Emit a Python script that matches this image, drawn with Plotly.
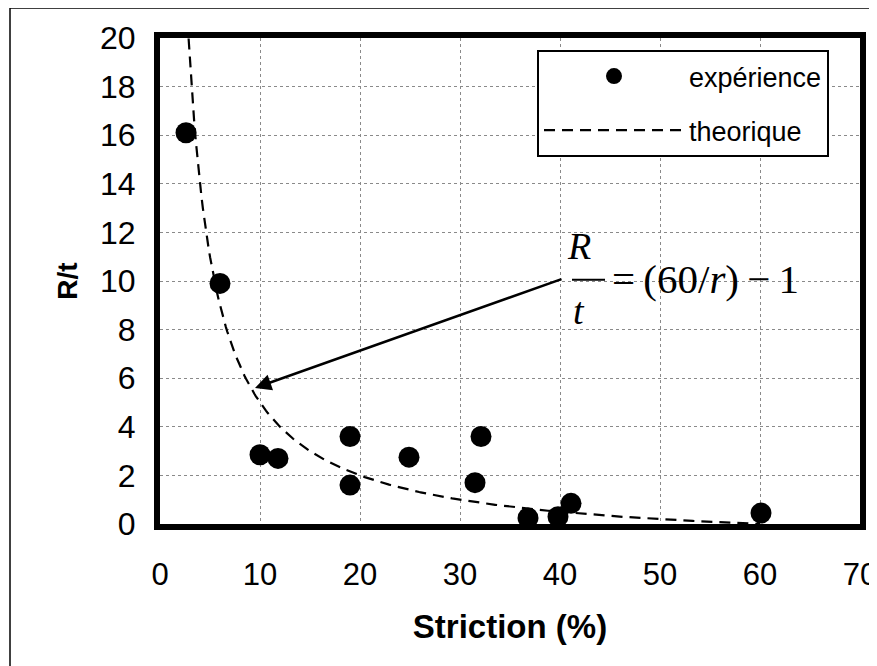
import numpy as np
import plotly.graph_objects as go

# Experimental data: striction (%) vs R/t
striction = [2.6, 6.0, 10.0, 11.8, 19.0, 19.0, 24.9, 31.5, 32.1, 36.8, 39.8, 41.1, 60.1]
r_over_t = [16.1, 9.9, 2.85, 2.7, 3.6, 1.6, 2.75, 1.7, 3.6, 0.25, 0.3, 0.85, 0.45]

# Theoretical curve R/t = 60/r - 1
r_theo = np.linspace(2.86, 60, 400)
rt_theo = 60.0 / r_theo - 1.0

x_ticks = [0, 10, 20, 30, 40, 50, 60, 70]
y_ticks = [0, 2, 4, 6, 8, 10, 12, 14, 16, 18, 20]

# page has an 8px body margin: compensate
OFF = 8
W, H = 877 - OFF, 666 - OFF
L, T = 160 - OFF, 38 - OFF
R = W - (860 - OFF)
B = H - (524 - OFF)

def px2x(p):
    return (p - 160) / (860 - 160)

def py2y(p):
    return (524 - p) / (524 - 38)

fig = go.Figure()
fig.add_trace(go.Scatter(
    x=striction, y=r_over_t, mode="markers", name="expérience",
    legendgroup="a",
    marker=dict(color="black", size=21, symbol="circle"),
))
fig.add_trace(go.Scatter(
    x=r_theo, y=rt_theo, mode="lines", name="theorique",
    legendgroup="b",
    line=dict(color="black", width=2.2, dash="11px,7px"),
))

font_sans = "Liberation Sans, Arial, sans-serif"
font_serif = "Liberation Serif, Times New Roman, serif"

# arrow
fig.add_annotation(x=9.5, y=5.6, ax=40.3, ay=10.1, xref="x", yref="y",
                   axref="x", ayref="y", text="", showarrow=True,
                   arrowhead=2, arrowsize=1.3, arrowwidth=2.5, arrowcolor="black")
# formula
fig.add_annotation(x=41.9, y=11.45, xref="x", yref="y", text="<i>R</i>",
                   showarrow=False, font=dict(family=font_serif, size=38, color="black"))
fig.add_annotation(x=41.9, y=8.75, xref="x", yref="y", text="<i>t</i>",
                   showarrow=False, font=dict(family=font_serif, size=38, color="black"))
fig.add_shape(type="line", x0=41.2, x1=44.5, y0=10.05, y1=10.05, xref="x", yref="y",
              line=dict(color="black", width=2))
fig.add_annotation(x=45.0, y=10.1, xref="x", yref="y", xanchor="left",
                   text="=\u2009(60/<i>r</i>)\u2009\u2212\u20091", showarrow=False,
                   font=dict(family=font_serif, size=41, color="black"))

# outer frame of the figure (left and top edges visible)
fig.add_shape(type="line", xref="paper", yref="paper",
              x0=px2x(10), x1=px2x(10), y0=py2y(680), y1=py2y(8),
              line=dict(color="black", width=1.5), layer="below")
fig.add_shape(type="line", xref="paper", yref="paper",
              x0=px2x(10), x1=px2x(900), y0=py2y(8), y1=py2y(8),
              line=dict(color="black", width=1.5), layer="below")

fig.update_layout(
    width=W, height=H,
    margin=dict(l=L, r=R, t=T, b=B, autoexpand=False),
    paper_bgcolor="white", plot_bgcolor="white",
    font=dict(family=font_sans, color="black"),
    showlegend=True,
    legend=dict(x=px2x(537), y=py2y(50), xanchor="left", yanchor="top",
                bordercolor="black", borderwidth=2, bgcolor="white",
                font=dict(family=font_sans, size=27, color="black"),
                itemwidth=140, tracegroupgap=16),
    xaxis=dict(range=[0, 70], tickvals=x_ticks, ticktext=[str(v) for v in x_ticks],
               showgrid=True, gridcolor="#8a8a8a", griddash="dot", gridwidth=1,
               showline=True, linecolor="black", linewidth=6, mirror=True,
               zeroline=False, ticks="", ticklabelstandoff=18,
               ticklabeloverflow="allow", automargin=False,
               tickfont=dict(size=31),
               title=dict(text="<b>Striction (%)</b>", font=dict(size=33), standoff=26)),
    yaxis=dict(range=[0, 20], tickvals=y_ticks, ticktext=[str(v) for v in y_ticks],
               showgrid=True, gridcolor="#8a8a8a", griddash="dot", gridwidth=1,
               showline=True, linecolor="black", linewidth=6, mirror=True,
               zeroline=False, ticks="", ticklabelstandoff=12, automargin=False,
               tickfont=dict(size=32),
               title=dict(text="<b>R/t</b>", font=dict(size=28), standoff=16)),
)

fig.write_html("out.html")
